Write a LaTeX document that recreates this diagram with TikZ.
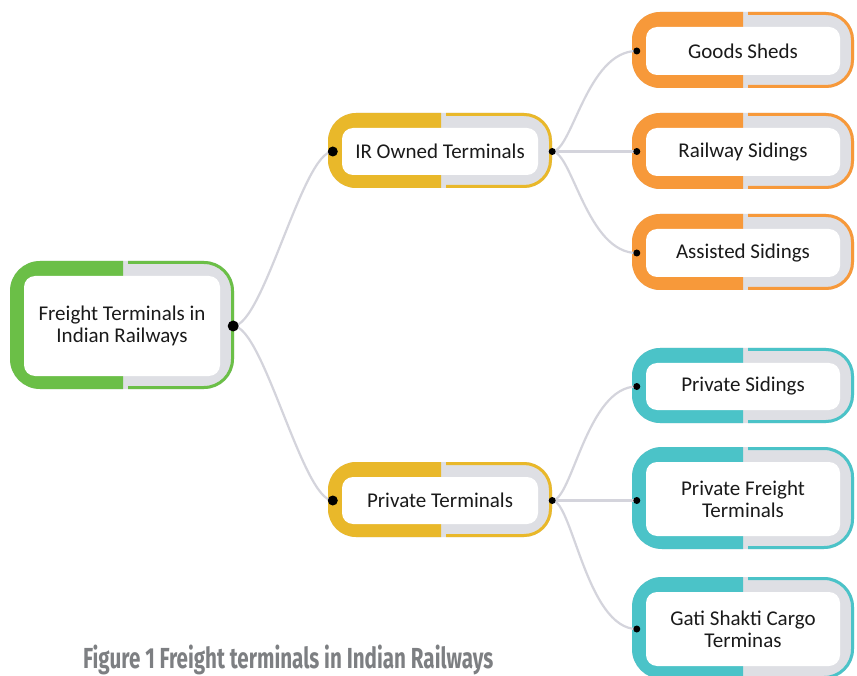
\documentclass[tikz,border=0pt]{standalone}
\usepackage{fontspec}
\setmainfont{Carlito}
\newfontfamily\capfont{Fira Sans}
\usepackage{graphicx}
\definecolor{cgreen}{HTML}{6BBF47}
\definecolor{cyellow}{HTML}{E9B82A}
\definecolor{corange}{HTML}{F7993A}
\definecolor{cteal}{HTML}{4BC3C8}
\definecolor{boxgrey}{HTML}{DEDFE4}
\definecolor{conncol}{HTML}{D4D4DC}
\definecolor{textblack}{HTML}{1A1A1A}
\definecolor{capgrey}{HTML}{7D7F82}
\pgfdeclarelayer{bg}
\pgfsetlayers{bg,main}
\tikzset{
  inbox/.style={fill=white, rounded corners=11pt, inner sep=0pt, align=center,
    font=\fontsize{21}{22}\selectfont, text=textblack},
  conn/.style={draw=conncol, line width=2.2pt},
  bigdot/.style={fill=black, circle, inner sep=0pt, minimum size=11pt},
  meddot/.style={fill=black, circle, inner sep=0pt, minimum size=10pt},
  smalldot/.style={fill=black, circle, inner sep=0pt, minimum size=7pt}
}
% name, x, y, w, h, split, colour, text, radius
\newcommand{\tbox}[9]{%
  \begin{pgfonlayer}{bg}
    \foreach \k in {1,...,6}{%
      \fill[black, opacity=0.018, rounded corners={#9+\k*1.5}]
        ({#2-\k*1.5},{#3-\k*1.5+2}) rectangle ({#2+#4+\k*1.5},{#3+#5+\k*1.5+2});}
  \end{pgfonlayer}
  \fill[boxgrey, rounded corners=#9] (#2,#3) rectangle ({#2+#4},{#3+#5});
  \begin{scope}
    \clip ({#2-1},{#3-1}) rectangle (#6,{#3+#5+1});
    \fill[#7, rounded corners=#9] (#2,#3) rectangle ({#2+#4},{#3+#5});
  \end{scope}
  \begin{scope}
    \clip ({#6+5},{#3-3}) rectangle ({#2+#4+3},{#3+#5+3});
    \draw[#7, line width=3pt, rounded corners={#9-1.5}]
      ({#2+1.5},{#3+1.5}) rectangle ({#2+#4-1.5},{#3+#5-1.5});
  \end{scope}
  \node[inbox, minimum width={#4-28}, minimum height={#5-28}] (#1)
    at ({#2+#4/2},{#3+#5/2+1}) {#8};
}
\begin{document}
\begin{tikzpicture}[x=1pt,y=-1pt]
\useasboundingbox (0,0) rectangle (857,676);
\fill[white] (0,0) rectangle (857,676);

\tbox{root}{10}{261}{224}{128}{123}{cgreen}{Freight Terminals in\\Indian Railways}{30}
\tbox{ir}{328}{113}{224}{75}{441}{cyellow}{IR Owned Terminals}{28}
\tbox{pt}{328}{462}{224}{75}{441}{cyellow}{Private Terminals}{28}
\tbox{gs}{632}{12}{222}{76}{743}{corange}{Goods Sheds}{28}
\tbox{rs}{632}{113}{222}{76}{743}{corange}{Railway Sidings}{28}
\tbox{as}{632}{214}{222}{76}{743}{corange}{Assisted Sidings}{28}
\tbox{ps}{632}{348}{222}{75}{743}{cteal}{Private Sidings}{28}
\tbox{pf}{632}{447}{222}{102}{743}{cteal}{Private Freight\\Terminals}{30}
\tbox{gc}{632}{577}{222}{102}{743}{cteal}{Gati Shakti Cargo\\Terminas}{30}

\coordinate (rootR) at ([xshift=13pt]root.east);
\coordinate (irL) at ([xshift=-9pt]ir.west);
\coordinate (irR) at ([xshift=14pt]ir.east);
\coordinate (ptL) at ([xshift=-9pt]pt.west);
\coordinate (ptR) at ([xshift=14pt]pt.east);
\coordinate (gsL) at ([xshift=-9pt]gs.west);
\coordinate (rsL) at ([xshift=-9pt]rs.west);
\coordinate (asL) at ([xshift=-9pt]as.west);
\coordinate (psL) at ([xshift=-9pt]ps.west);
\coordinate (pfL) at ([xshift=-9pt]pf.west);
\coordinate (gcL) at ([xshift=-9pt]gc.west);

\draw[conn] (rootR) .. controls +(30,0) and +(-30,0) .. (irL);
\draw[conn] (rootR) .. controls +(30,0) and +(-30,0) .. (ptL);
\draw[conn] (irR) .. controls +(20,0) and +(-50,0) .. (gsL);
\draw[conn] (irR) -- (irR -| rsL);
\draw[conn] (irR) .. controls +(20,0) and +(-50,0) .. (asL);
\draw[conn] (ptR) .. controls +(20,0) and +(-50,0) .. (psL);
\draw[conn] (ptR) -- (ptR -| pfL);
\draw[conn] (ptR) .. controls +(20,0) and +(-50,0) .. (gcL);

\node[bigdot] (d0) at (rootR) {};
\node[meddot] (d1) at (irL) {};
\node[meddot] (d2) at (ptL) {};
\node[smalldot] (d3) at (irR) {};
\node[smalldot] (d4) at (ptR) {};
\node[smalldot] (d5) at (gsL) {};
\node[smalldot] (d6) at (irR -| rsL) {};
\node[smalldot] (d7) at (asL) {};
\node[smalldot] (d8) at (psL) {};
\node[smalldot] (d9) at (ptR -| pfL) {};
\node[smalldot] (d10) at (gcL) {};

\node[anchor=base west, inner sep=0pt, text=capgrey] (cap) at (83,668)
  {\resizebox{410pt}{\height}{\capfont\bfseries\fontsize{29}{30}\selectfont Figure 1 Freight terminals in Indian Railways}};
\end{tikzpicture}
\end{document}
